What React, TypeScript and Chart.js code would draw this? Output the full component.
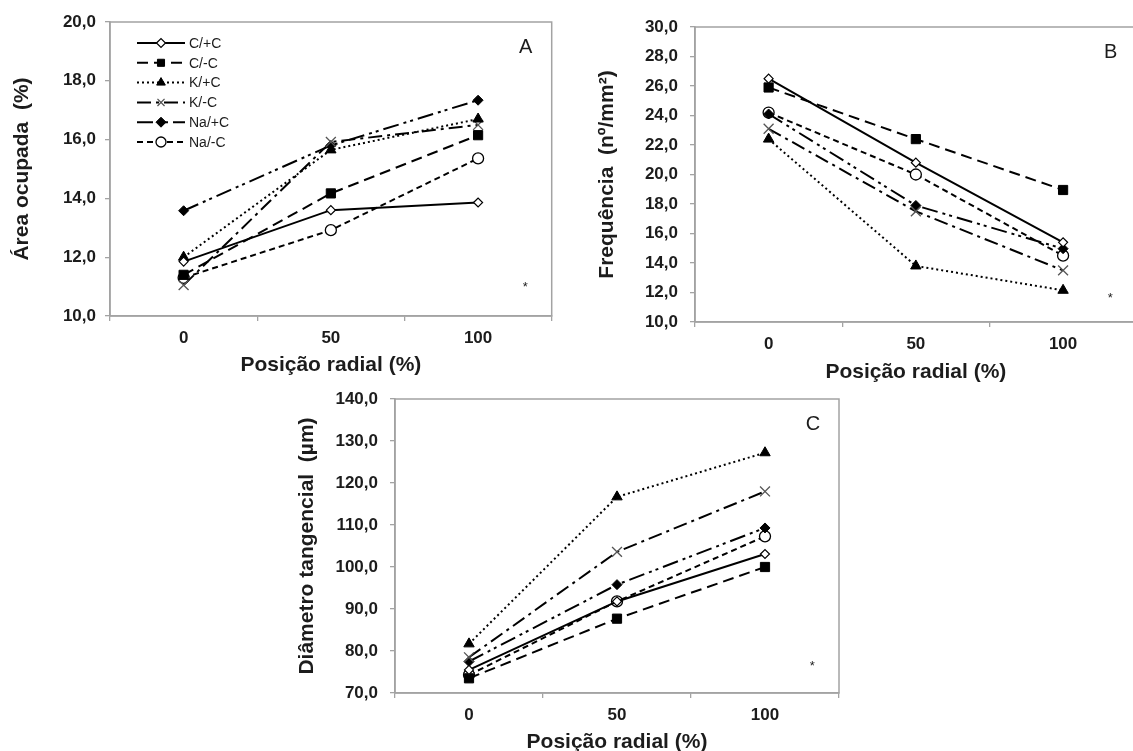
import React, { useEffect, useRef } from 'react';
import { Chart, registerables } from 'chart.js';
import { drawPoint } from 'chart.js/helpers';

Chart.register(...registerables);

// ---------- data ----------
const RADIAL_POSITIONS = ['0', '50', '100'];
const SERIES_LABELS = ['C/+C', 'C/-C', 'K/+C', 'K/-C', 'Na/+C', 'Na/-C'];

// Panel A – Área ocupada (%)
const AREA_C_PLUS = [11.85, 13.6, 13.86];
const AREA_C_MINUS = [11.4, 14.17, 16.15];
const AREA_K_PLUS = [12.0, 15.65, 16.7];
const AREA_K_MINUS = [11.05, 15.92, 16.5];
const AREA_NA_PLUS = [13.58, 15.8, 17.34];
const AREA_NA_MINUS = [11.3, 12.92, 15.36];

// Panel B – Frequência (nº/mm²)
const FREQ_C_PLUS = [26.5, 20.8, 15.4];
const FREQ_C_MINUS = [25.9, 22.4, 18.95];
const FREQ_K_PLUS = [22.4, 13.8, 12.15];
const FREQ_K_MINUS = [23.1, 17.5, 13.5];
const FREQ_NA_PLUS = [24.1, 17.9, 14.97];
const FREQ_NA_MINUS = [24.2, 20.0, 14.5];

// Panel C – Diâmetro tangencial (µm)
const DIAM_C_PLUS = [75.5, 91.8, 103.1];
const DIAM_C_MINUS = [73.5, 87.7, 100.0];
const DIAM_K_PLUS = [81.7, 116.7, 127.2];
const DIAM_K_MINUS = [78.5, 103.6, 118.0];
const DIAM_NA_PLUS = [77.5, 95.8, 109.3];
const DIAM_NA_MINUS = [74.3, 91.8, 107.3];

// y-axis ranges [min, max, step]
const AREA_RANGE = [10, 20, 2];
const FREQ_RANGE = [10, 30, 2];
const DIAM_RANGE = [70, 140, 10];

// significance star positions [category index, value]
const STAR_A = [2.32, 11.1];
const STAR_B = [2.32, 11.85];
const STAR_C = [2.32, 77.2];

// ---------- styles ----------
const GRAY = '#a3a3a3';
const TEXT = '#1c1c1c';
const FONT_FAMILY = '"Liberation Sans", Arial, Helvetica, sans-serif';

const STYLES = [
  { dash: [], pointStyle: 'rectRot', radius: 4.5, fill: '#ffffff', stroke: '#000000', pw: 1.2 },
  { dash: [11, 6], pointStyle: 'rect', radius: 6.5, fill: '#000000', stroke: '#000000', pw: 1 },
  { dash: [2, 3], pointStyle: 'triangle', radius: 6, fill: '#000000', stroke: '#000000', pw: 1 },
  { dash: [14, 5, 3, 5], pointStyle: 'crossRot', radius: 7, fill: '#555555', stroke: '#555555', pw: 1.3 },
  { dash: [16, 5, 3, 4, 3, 5], pointStyle: 'rectRot', radius: 5, fill: '#000000', stroke: '#000000', pw: 1 },
  { dash: [6, 4], pointStyle: 'circle', radius: 5.5, fill: '#ffffff', stroke: '#000000', pw: 1.3 },
];

const fmt = (v: number) => Number(v).toFixed(1).replace('.', ',');

type Panel = {
  left: number; top: number; width: number; height: number;
  yW: number; xH: number; padTop: number; padRight: number;
  yTitlePad: number; yTickPad: number;
  yTitle: string; range: number[]; series: number[][];
  letter: string; star: number[]; legend: boolean;
};

const PANELS: Panel[] = [
  {
    left: 0, top: 0, width: 560, height: 378, yW: 110, xH: 62, padTop: 22, padRight: 5,
    yTitlePad: 10, yTickPad: 9, yTitle: 'Área ocupada  (%)', range: AREA_RANGE,
    series: [AREA_C_PLUS, AREA_C_MINUS, AREA_K_PLUS, AREA_K_MINUS, AREA_NA_PLUS, AREA_NA_MINUS],
    letter: 'A', star: STAR_A, legend: true,
  },
  {
    left: 570, top: 0, width: 575, height: 385, yW: 125, xH: 63, padTop: 27, padRight: 6,
    yTitlePad: 25, yTickPad: 12, yTitle: 'Frequência  (nº/mm²)', range: FREQ_RANGE,
    series: [FREQ_C_PLUS, FREQ_C_MINUS, FREQ_K_PLUS, FREQ_K_MINUS, FREQ_NA_PLUS, FREQ_NA_MINUS],
    letter: 'B', star: STAR_B, legend: false,
  },
  {
    left: 280, top: 360, width: 570, height: 395, yW: 115, xH: 62, padTop: 39, padRight: 11,
    yTitlePad: 15, yTickPad: 12, yTitle: 'Diâmetro tangencial  (µm)', range: DIAM_RANGE,
    series: [DIAM_C_PLUS, DIAM_C_MINUS, DIAM_K_PLUS, DIAM_K_MINUS, DIAM_NA_PLUS, DIAM_NA_MINUS],
    letter: 'C', star: STAR_C, legend: false,
  },
];

const framePlugin = {
  id: 'frame',
  beforeDatasetsDraw(chart: any) {
    const { ctx, chartArea: a } = chart;
    ctx.save();
    ctx.strokeStyle = GRAY;
    ctx.lineWidth = 1.5;
    ctx.strokeRect(a.left, a.top, a.right - a.left, a.bottom - a.top);
    ctx.restore();
  },
};

const makeAnnotations = (p: Panel) => ({
  id: 'annot',
  afterDatasetsDraw(chart: any) {
    const { ctx, chartArea: a, scales } = chart;
    ctx.save();
    ctx.fillStyle = TEXT;
    ctx.font = `20px ${FONT_FAMILY}`;
    ctx.textAlign = 'center';
    ctx.textBaseline = 'middle';
    ctx.fillText(p.letter, a.right - 26, a.top + 25);
    const sx = scales.x.getPixelForValue(p.star[0]);
    const sy = scales.y.getPixelForValue(p.star[1]);
    ctx.font = `13px ${FONT_FAMILY}`;
    ctx.textBaseline = 'alphabetic';
    ctx.fillText('*', sx, sy + 7.5);

    if (p.legend) {
      const x0 = a.left + 27;
      const y0 = a.top + 21;
      const rowH = 19.8;
      chart.data.datasets.forEach((ds: any, i: number) => {
        const y = y0 + i * rowH;
        ctx.save();
        ctx.setLineDash(ds.borderDash || []);
        ctx.lineWidth = 2;
        ctx.strokeStyle = '#000';
        ctx.beginPath();
        ctx.moveTo(x0, y);
        ctx.lineTo(x0 + 48, y);
        ctx.stroke();
        ctx.restore();
        ctx.save();
        ctx.fillStyle = ds.pointBackgroundColor;
        ctx.strokeStyle = ds.pointBorderColor;
        ctx.lineWidth = ds.pointBorderWidth;
        drawPoint(ctx, {
          pointStyle: ds.pointStyle,
          radius: Math.min(ds.pointRadius, 5),
          rotation: 0,
          borderWidth: ds.pointBorderWidth,
        } as any, x0 + 24, y);
        ctx.restore();
        ctx.save();
        ctx.fillStyle = TEXT;
        ctx.font = `14px ${FONT_FAMILY}`;
        ctx.textAlign = 'left';
        ctx.textBaseline = 'middle';
        ctx.fillText(ds.label, x0 + 52, y + 1);
        ctx.restore();
      });
    }
    ctx.restore();
  },
});

function PanelChart({ p }: { p: Panel }) {
  const ref = useRef<HTMLCanvasElement | null>(null);
  useEffect(() => {
    if (!ref.current) return;
    const tickFont = { family: FONT_FAMILY, size: 17, weight: 'bold' as const };
    const titleFont = { family: FONT_FAMILY, size: 21, weight: 'bold' as const, lineHeight: 1.2 };
    const chart = new Chart(ref.current, {
      type: 'line',
      data: {
        labels: RADIAL_POSITIONS,
        datasets: p.series.map((d, i) => ({
          label: SERIES_LABELS[i],
          data: d,
          borderColor: '#000000',
          borderWidth: 2,
          borderDash: STYLES[i].dash,
          pointStyle: STYLES[i].pointStyle as any,
          pointRadius: STYLES[i].radius,
          pointBackgroundColor: STYLES[i].fill,
          pointBorderColor: STYLES[i].stroke,
          pointBorderWidth: STYLES[i].pw,
          tension: 0,
          fill: false,
          clip: false as any,
        })),
      },
      options: {
        animation: false,
        responsive: false,
        events: [],
        layout: { padding: { left: 0, top: p.padTop, right: p.padRight, bottom: 0 } },
        plugins: {
          legend: { display: false },
          tooltip: { enabled: false },
          title: { display: false },
        },
        scales: {
          x: {
            type: 'category',
            offset: true,
            grid: {
              offset: true,
              drawOnChartArea: false,
              drawTicks: true,
              tickLength: 5,
              color: GRAY,
              lineWidth: 1.3,
            },
            border: { display: true, color: GRAY, width: 1.5 },
            ticks: { font: tickFont, color: TEXT, padding: 7, maxRotation: 0, autoSkip: false },
            title: {
              display: true,
              text: 'Posição radial (%)',
              font: titleFont,
              color: TEXT,
              padding: { top: 0, bottom: 0 },
            },
            afterFit: (s: any) => { s.height = p.xH; },
          },
          y: {
            min: p.range[0],
            max: p.range[1],
            ticks: {
              stepSize: p.range[2],
              callback: (v: any) => fmt(v),
              font: tickFont,
              color: TEXT,
              padding: p.yTickPad,
            },
            grid: {
              drawOnChartArea: false,
              drawTicks: true,
              tickLength: 5,
              color: GRAY,
              lineWidth: 1.3,
            },
            border: { display: true, color: GRAY, width: 1.5 },
            title: {
              display: true,
              text: p.yTitle,
              font: titleFont,
              color: TEXT,
              padding: { top: p.yTitlePad, bottom: 0 },
            },
            afterFit: (s: any) => { s.width = p.yW; },
          },
        },
      } as any,
      plugins: [framePlugin, makeAnnotations(p)],
    });
    return () => chart.destroy();
  }, [p]);
  return (
    <canvas
      ref={ref}
      width={p.width}
      height={p.height}
      style={{ position: 'absolute', left: p.left, top: p.top, width: p.width, height: p.height }}
    />
  );
}

export default function App() {
  return (
    <div
      style={{
        position: 'fixed',
        left: 0,
        top: 0,
        width: 1133,
        height: 751,
        overflow: 'hidden',
        background: '#ffffff',
      }}
    >
      {PANELS.map((p) => (
        <PanelChart key={p.letter} p={p} />
      ))}
    </div>
  );
}
